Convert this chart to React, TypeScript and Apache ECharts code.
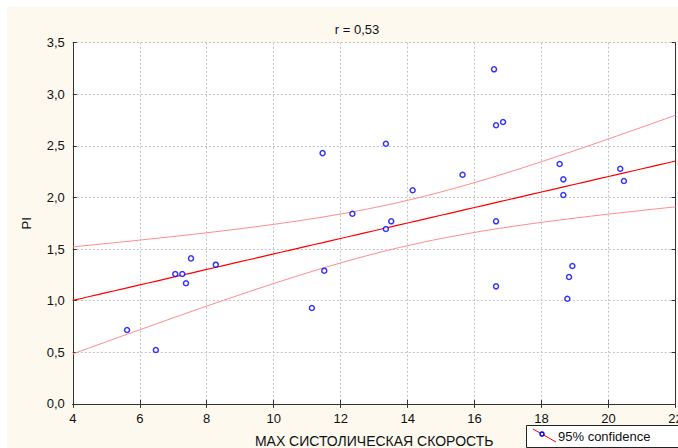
import React, { useEffect, useRef } from "react";
import * as echarts from "echarts";

const xValues = [5.62, 6.48, 7.06, 7.27, 7.38, 7.53, 8.27, 11.14, 11.46, 11.51, 12.35, 13.35, 13.35, 13.51, 14.15, 15.64, 16.58, 16.64, 16.85, 16.64, 16.64, 18.54, 18.65, 18.65, 18.92, 18.82, 18.77, 20.35, 20.46];
const yValues = [0.716, 0.522, 1.259, 1.259, 1.169, 1.41, 1.349, 0.929, 2.43, 1.291, 1.843, 2.521, 1.695, 1.769, 2.07, 2.221, 3.242, 2.7, 2.732, 1.769, 1.139, 2.325, 2.176, 2.024, 1.336, 1.23, 1.019, 2.279, 2.16];
const titleText = "r = 0,53";
const xAxisName = "МАХ СИСТОЛИЧЕСКАЯ СКОРОСТЬ";
const yAxisName = "PI";
const legendText = "95% confidence";
const tCrit = 2.052; // t(0.975, n-2)

const FONT = "'Liberation Sans', Arial, sans-serif";

function fitLines() {
  const n = xValues.length;
  const mx = xValues.reduce((a, b) => a + b, 0) / n;
  const my = yValues.reduce((a, b) => a + b, 0) / n;
  let sxx = 0, sxy = 0;
  for (let i = 0; i < n; i++) {
    sxx += (xValues[i] - mx) ** 2;
    sxy += (xValues[i] - mx) * (yValues[i] - my);
  }
  const b = sxy / sxx;
  const a = my - b * mx;
  let sse = 0;
  for (let i = 0; i < n; i++) sse += (yValues[i] - a - b * xValues[i]) ** 2;
  const s = Math.sqrt(sse / (n - 2));
  const fit: number[][] = [];
  const up: number[][] = [];
  const lo: number[][] = [];
  for (let x = 4; x <= 22.0001; x += 0.25) {
    const yh = a + b * x;
    const h = tCrit * s * Math.sqrt(1 / n + (x - mx) ** 2 / sxx);
    fit.push([x, yh]);
    up.push([x, yh + h]);
    lo.push([x, yh - h]);
  }
  return { fit, up, lo };
}

export default function App() {
  const ref = useRef<HTMLDivElement>(null);
  useEffect(() => {
    if (!ref.current) return;
    const chart = echarts.init(ref.current, null, { renderer: "svg" });
    const { fit, up, lo } = fitLines();
    const axisLine = { show: true, lineStyle: { color: "#333", width: 1 } };
    const tick = { show: true, inside: true, length: 4, lineStyle: { color: "#333" } };
    const split = { show: true, lineStyle: { color: "#c4c4c4", type: [2, 2] as any, width: 1 } };
    chart.setOption({
      animation: false,
      backgroundColor: "#ffffff",
      graphic: [
        { type: "rect", z: -10, shape: { x: 7, y: 7, width: 671, height: 441 }, style: { fill: "#fdf9ee" } },
        { type: "rect", z: -9, shape: { x: 72.8, y: 42.7, width: 602.7, height: 361.2 }, style: { fill: "#ffffff" } },
        { type: "rect", z: 10, shape: { x: 526.5, y: 425.5, width: 160, height: 22 }, style: { fill: "#ffffff", stroke: "#222", lineWidth: 1 } },
        { type: "line", z: 11, shape: { x1: 533, y1: 429, x2: 556, y2: 442 }, style: { stroke: "#ff0000", lineWidth: 1 } },
        { type: "circle", z: 12, shape: { cx: 542, cy: 434, r: 2 }, style: { fill: "#ffffff", stroke: "#0000ff", lineWidth: 1.5 } },
        { type: "text", z: 11, x: 558, y: 436.5, style: { text: legendText, fill: "#111", font: "13px " + FONT, textVerticalAlign: "middle" } },
      ],
      title: {
        text: titleText,
        left: 352,
        top: 18,
        textAlign: "center",
        textStyle: { fontSize: 13, fontWeight: "normal", color: "#111", fontFamily: FONT },
      },
      grid: { left: 72.8, right: 2.5, top: 42.7, bottom: 44.1, containLabel: false, outerBoundsMode: "none" },
      xAxis: [
        {
          type: "value", min: 4, max: 22, interval: 2, position: "bottom",
          axisLine, axisTick: tick, splitLine: split,
          axisLabel: { color: "#111", fontSize: 13, fontFamily: FONT, margin: 8, formatter: (v: number) => String(v) },
          name: xAxisName, nameLocation: "middle", nameGap: 30,
          nameTextStyle: { color: "#111", fontSize: 14, fontFamily: FONT },
        },
        { type: "value", min: 4, max: 22, interval: 2, position: "top", axisLine, axisTick: tick, axisLabel: { show: false }, splitLine: { show: false } },
      ],
      yAxis: [
        {
          type: "value", min: 0, max: 3.5, interval: 0.5, position: "left",
          axisLine, axisTick: tick, splitLine: split,
          axisLabel: { color: "#111", fontSize: 13, fontFamily: FONT, margin: 8, formatter: (v: number) => v.toFixed(1).replace(".", ",") },
          name: yAxisName, nameLocation: "middle", nameGap: 40, nameRotate: 90,
          nameTextStyle: { color: "#111", fontSize: 13, fontFamily: FONT },
        },
        { type: "value", min: 0, max: 3.5, interval: 0.5, position: "right", axisLine, axisTick: tick, axisLabel: { show: false }, splitLine: { show: false } },
      ],
      series: [
        { type: "line", data: up, showSymbol: false, lineStyle: { color: "#ff8c8c", width: 1 }, z: 3 },
        { type: "line", data: lo, showSymbol: false, lineStyle: { color: "#ff8c8c", width: 1 }, z: 3 },
        { type: "line", data: fit, showSymbol: false, lineStyle: { color: "#ff0000", width: 1.2 }, z: 4 },
        {
          type: "scatter",
          data: xValues.map((x, i) => [x, yValues[i]]),
          symbol: "circle", symbolSize: 5,
          itemStyle: { color: "#ffffff", borderColor: "#0000ff", borderWidth: 1.5 },
          z: 5,
        },
      ],
    });
    return () => chart.dispose();
  }, []);
  return <div ref={ref} style={{ width: 678, height: 448, position: "absolute", left: 0, top: 0 }} />;
}
